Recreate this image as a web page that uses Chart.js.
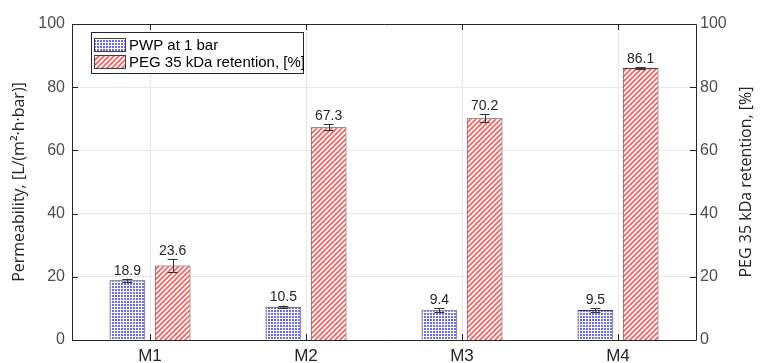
<!DOCTYPE html>
<html><head><meta charset="utf-8">
<script src="https://cdn.jsdelivr.net/npm/chart.js@4"></script>
<style>html,body{margin:0;padding:0;background:#fff}#wrap{width:762px;height:363px}</style>
</head><body><div id="wrap"><canvas id="c" width="762" height="363"></canvas></div>
<script>
const categories = ['M1','M2','M3','M4'];
const pwpValues = [18.9, 10.5, 9.4, 9.5];
const pwpErrors = [0.5, 0.4, 0.6, 0.5];
const pegValues = [23.6, 67.3, 70.2, 86.1];
const pegErrors = [2.0, 1.0, 1.2, 0.3];
const yTicks = [0, 20, 40, 60, 80, 100];
const seriesNames = ['PWP at 1 bar', 'PEG 35 kDa retention, [%]'];
const leftTitle = 'Permeability, [L/(m\u00B2\u00B7h\u00B7bar)]';
const rightTitle = 'PEG 35 kDa retention, [%]';

function bluePattern(){
  const t=document.createElement('canvas');t.width=3;t.height=3;
  const g=t.getContext('2d');
  g.fillStyle='#ffffff';g.fillRect(0,0,3,3);
  g.fillStyle='#6a6aff';g.fillRect(1,1,2,2);
  return g.createPattern(t,'repeat');
}
function redPattern(){
  const s=5;const t=document.createElement('canvas');t.width=s;t.height=s;
  const g=t.getContext('2d');
  g.fillStyle='#ffffff';g.fillRect(0,0,s,s);
  g.strokeStyle='#ff5a5a';g.lineWidth=1.6;
  g.beginPath();
  g.moveTo(-1,s+1);g.lineTo(s+1,-1);
  g.moveTo(-1,1);g.lineTo(1,-1);
  g.moveTo(s-1,s+1);g.lineTo(s+1,s-1);
  g.stroke();
  return g.createPattern(t,'repeat');
}
const bp=bluePattern(), rp=redPattern();
const errs=[pwpErrors,pegErrors];
const AX={l:72,r:696,t:24,b:340};
const FONT='"Liberation Sans", Arial, sans-serif';

const framePlugin={
  id:'frame',
  afterDraw(chart){
    const ctx=chart.ctx, a=chart.chartArea;
    const yl=chart.scales.y, yr=chart.scales.y2, x=chart.scales.x;
    ctx.save();
    chart.data.datasets.forEach((ds,di)=>{
      const meta=chart.getDatasetMeta(di);
      const sc=chart.scales[ds.yAxisID];
      meta.data.forEach((bar,i)=>{
        const v=ds.data[i], e=errs[di][i];
        const yTop=sc.getPixelForValue(v+e), yBot=sc.getPixelForValue(v-e);
        ctx.strokeStyle='#333333';ctx.lineWidth=1;
        ctx.beginPath();
        ctx.moveTo(Math.round(bar.x)+0.5,yTop);ctx.lineTo(Math.round(bar.x)+0.5,yBot);
        ctx.moveTo(bar.x-5,Math.round(yTop)+0.5);ctx.lineTo(bar.x+5,Math.round(yTop)+0.5);
        ctx.moveTo(bar.x-5,Math.round(yBot)+0.5);ctx.lineTo(bar.x+5,Math.round(yBot)+0.5);
        ctx.stroke();
        ctx.fillStyle='#262626';ctx.font='14px '+FONT;
        ctx.textAlign='center';ctx.textBaseline='bottom';
        ctx.fillText(v.toFixed(1),bar.x,yTop-1);
      });
    });
    ctx.strokeStyle='#262626';ctx.lineWidth=1;
    ctx.beginPath();
    ctx.rect(Math.round(a.left)+0.5,Math.round(a.top)+0.5,Math.round(a.right-a.left),Math.round(a.bottom-a.top));
    ctx.stroke();
    ctx.beginPath();
    yTicks.forEach(v=>{
      const py=Math.round(yl.getPixelForValue(v))+0.5;
      ctx.moveTo(a.left,py);ctx.lineTo(a.left+6,py);
      const pr=Math.round(yr.getPixelForValue(v))+0.5;
      ctx.moveTo(a.right,pr);ctx.lineTo(a.right-6,pr);
    });
    categories.forEach((c,i)=>{
      const px=Math.round(x.getPixelForValue(i))+0.5;
      ctx.moveTo(px,a.bottom);ctx.lineTo(px,a.bottom-6);
      ctx.moveTo(px,a.top);ctx.lineTo(px,a.top+6);
    });
    ctx.stroke();
    // axis titles (both read bottom-to-top)
    const cy=(a.top+a.bottom)/2;
    ctx.fillStyle='#262626';ctx.font='16px "Open Sans", '+FONT;
    ctx.textAlign='center';ctx.textBaseline='middle';
    [[19,leftTitle],[746,rightTitle]].forEach(([tx,txt])=>{
      ctx.save();ctx.translate(tx,cy);ctx.rotate(-Math.PI/2);ctx.fillText(txt,0,0);ctx.restore();
    });
    // legend
    const lx=91.5, ly=32.5, lw=212, lh=41;
    ctx.fillStyle='#ffffff';ctx.fillRect(lx,ly,lw,lh);
    ctx.strokeStyle='#262626';ctx.strokeRect(lx,ly,lw,lh);
    const pats=[bp,rp];
    ctx.font='15px '+FONT;ctx.textAlign='left';ctx.textBaseline='middle';
    seriesNames.forEach((n,i)=>{
      const py=38+i*17;
      ctx.fillStyle=pats[i];ctx.fillRect(94,py,32,14);
      ctx.strokeStyle='#404040';ctx.strokeRect(94.5,py+0.5,31,13);
      ctx.fillStyle='#000000';ctx.fillText(n,129,py+7.5);
    });
    ctx.restore();
  }
};

new Chart(document.getElementById('c'),{
  type:'bar',
  data:{labels:categories,datasets:[
    {label:seriesNames[0],data:pwpValues,yAxisID:'y',backgroundColor:bp,borderColor:'#404040',borderWidth:1,categoryPercentage:0.58,barPercentage:0.79},
    {label:seriesNames[1],data:pegValues,yAxisID:'y2',backgroundColor:rp,borderColor:'#404040',borderWidth:1,categoryPercentage:0.58,barPercentage:0.79}
  ]},
  options:{
    responsive:false,animation:false,devicePixelRatio:1,
    layout:{padding:{top:AX.t,left:0,right:0,bottom:0}},
    plugins:{legend:{display:false},tooltip:{enabled:false}},
    scales:{
      x:{offset:true,grid:{offset:false,color:'#e8e8e8',drawTicks:false},border:{display:false},
        ticks:{color:'#262626',font:{size:17,family:FONT},padding:6},
        afterFit(s){s.height=363-AX.b;}},
      y:{position:'left',min:0,max:100,afterBuildTicks(s){s.ticks=yTicks.map(v=>({value:v}));},
        grid:{color:'#e8e8e8',drawTicks:false},border:{display:false},
        ticks:{color:'#4d4d4d',font:{size:16,family:FONT},padding:7},
        afterFit(s){s.width=AX.l;}},
      y2:{position:'right',min:0,max:100,afterBuildTicks(s){s.ticks=yTicks.map(v=>({value:v}));},
        grid:{display:false,drawTicks:false},border:{display:false},
        ticks:{color:'#4d4d4d',font:{size:16,family:FONT},padding:4},
        afterFit(s){s.width=762-AX.r;}}
    }
  },
  plugins:[framePlugin]
});
</script></body></html>
